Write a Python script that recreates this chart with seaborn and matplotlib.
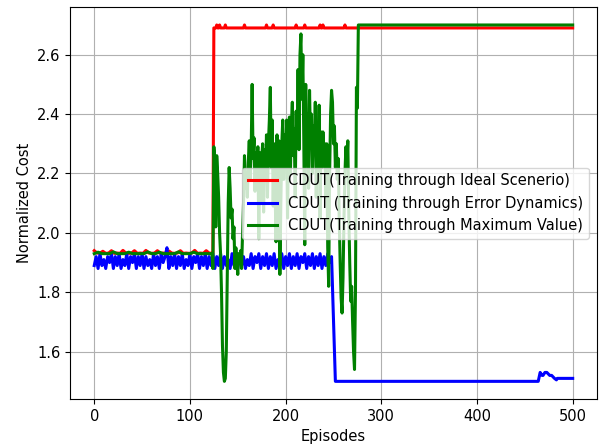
import matplotlib
matplotlib.use("Agg")
import matplotlib.pyplot as plt
import seaborn as sns

# ---- data ----
labels = [
    "CDUT(Training through Ideal Scenerio)",
    "CDUT (Training through Error Dynamics)",
    "CDUT(Training through Maximum Value)",
]

# Ideal scenario (red)
red_ep = list(range(0, 124, 3)) + [
    124, 125,
    127, 128, 129,
    130, 131, 132,
    136, 137, 138,
    156, 157, 158,
    179, 180, 181,
    186, 187, 188,
    210, 211, 212,
    219, 220, 221,
    235, 236, 237,
    238, 239, 240,
    261, 262, 263,
    500,
]
red_val = [
    1.940, 1.932, 1.932, 1.938, 1.931, 1.932, 1.940, 1.931, 1.932, 1.931,
    1.941, 1.932, 1.931, 1.932, 1.940, 1.931, 1.932, 1.931, 1.941, 1.932,
    1.931, 1.932, 1.940, 1.931, 1.932, 1.931, 1.939, 1.932, 1.931, 1.932,
    1.940, 1.931, 1.932, 1.931, 1.932, 1.941, 1.931, 1.932, 1.931, 1.940,
    1.932, 1.931,
    1.932, 2.69,
    2.69, 2.70, 2.69,
    2.69, 2.70, 2.69,
    2.69, 2.70, 2.69,
    2.69, 2.70, 2.69,
    2.69, 2.70, 2.69,
    2.69, 2.70, 2.69,
    2.69, 2.70, 2.69,
    2.69, 2.70, 2.69,
    2.69, 2.70, 2.69,
    2.69, 2.70, 2.69,
    2.69, 2.70, 2.69,
    2.69,
]

# Error dynamics (blue)
blue_ep = list(range(0, 250, 2)) + [
    252, 464, 466, 468, 469, 471, 473, 476, 478, 481, 483, 484, 500,
]
blue_val = [
    1.89, 1.92, 1.88, 1.93, 1.89, 1.91, 1.88, 1.92, 1.90, 1.93,
    1.88, 1.92, 1.89, 1.93, 1.88, 1.91, 1.89, 1.93, 1.88, 1.92,
    1.90, 1.93, 1.88, 1.92, 1.89, 1.93, 1.88, 1.92, 1.89, 1.91,
    1.88, 1.93, 1.89, 1.92, 1.88, 1.93, 1.90, 1.92, 1.95, 1.88,
    1.92, 1.89, 1.93, 1.88, 1.92, 1.89, 1.93, 1.88, 1.91, 1.89,
    1.93, 1.88, 1.92, 1.90, 1.93, 1.88, 1.92, 1.89, 1.93, 1.88,
    1.92, 1.89, 1.93,
    1.88, 1.92, 1.89, 1.93, 1.88, 1.92, 1.89, 1.91, 1.88, 1.93,
    1.89, 1.92, 1.88, 1.93, 1.89, 1.92, 1.88, 1.91, 1.89, 1.93,
    1.88, 1.92, 1.90, 1.93, 1.88, 1.92, 1.89, 1.93, 1.88, 1.92,
    1.89, 1.93, 1.88, 1.91, 1.89, 1.93, 1.88, 1.92, 1.89, 1.93,
    1.88, 1.92, 1.89, 1.93, 1.88, 1.92, 1.90, 1.93, 1.88, 1.92,
    1.89, 1.93, 1.88, 1.92, 1.89, 1.93, 1.88, 1.92, 1.89, 1.93,
    1.90, 1.92,
    1.50, 1.50, 1.53, 1.52, 1.52, 1.53, 1.53, 1.52, 1.52, 1.51, 1.505, 1.51,
    1.51,
]

# Maximum value (green)
green_ep = list(range(0, 121, 4)) + list(range(122, 279)) + [500]
green_val = [
    1.930, 1.935, 1.930, 1.930, 1.930, 1.936, 1.930, 1.930, 1.930, 1.935,
    1.930, 1.930, 1.930, 1.930, 1.936, 1.930, 1.930, 1.935, 1.930, 1.930,
    1.930, 1.930, 1.936, 1.930, 1.930, 1.930, 1.935, 1.930, 1.930, 1.930,
    1.930,
    # 122 - 278, one per episode
    1.93, 1.93, 1.88, 2.29, 2.24, 2.02, 2.26, 2.20, 2.12, 2.00,
    1.93, 1.80, 1.62, 1.53, 1.50, 1.51, 1.60, 1.85, 2.10, 2.22,
    2.15, 2.05, 2.08, 1.98, 2.02, 1.88, 1.95, 1.90, 1.86, 1.93,
    1.90, 1.94, 1.88, 2.00, 2.10, 2.26, 2.15, 2.20, 2.12, 2.24,
    2.31, 2.18, 2.28, 2.50, 2.25, 2.32, 2.14, 2.27, 2.20, 2.29,
    1.98, 2.27, 2.10, 2.25, 2.30, 2.07, 2.28, 2.20, 2.33, 2.12,
    2.30, 2.38, 2.49, 2.22, 2.38, 2.09, 2.30, 2.15, 1.97, 2.33,
    2.20, 2.31, 1.86, 2.10, 2.30, 2.38, 2.18, 2.33, 2.22, 2.38,
    2.05, 2.29, 2.39, 2.20, 2.36, 2.44, 2.26, 2.35, 2.12, 2.41,
    2.30, 2.55, 2.28, 2.60, 2.67, 2.45, 2.60, 2.31, 1.96, 2.50,
    2.30, 2.40, 2.15, 2.48, 2.30, 2.40, 2.20, 2.36, 2.27, 2.44,
    2.12, 2.34, 2.25, 2.43, 2.05, 2.34, 2.22, 2.34, 2.27, 2.30,
    2.12, 2.30, 1.95, 1.82, 2.20, 2.40, 2.48, 2.44, 2.30, 2.36,
    2.22, 2.30, 2.18, 2.25, 2.05, 1.90, 1.78, 1.73, 1.85, 2.05,
    2.20, 2.29, 2.22, 2.31, 2.07, 1.90, 1.77, 1.82, 1.70, 1.60,
    1.54, 1.80, 2.49, 2.42, 2.70, 2.70, 2.70,
    2.70,
]

plt.rcParams["font.size"] = 10.5

fig, ax = plt.subplots(figsize=(5.99, 4.48), dpi=100)
fig.subplots_adjust(left=0.1174, right=0.996, top=0.984, bottom=0.109)

for ep, val, color, label in [
    (red_ep, red_val, "red", labels[0]),
    (blue_ep, blue_val, "blue", labels[1]),
    (green_ep, green_val, "green", labels[2]),
]:
    sns.lineplot(x=ep, y=val, color=color, linewidth=2.2, label=label,
                 sort=False, ax=ax)

ax.set_xlabel("Episodes")
ax.set_ylabel("Normalized Cost")
ax.grid(True)
ax.legend(loc="center right")

fig.savefig("out.png", dpi=100)
